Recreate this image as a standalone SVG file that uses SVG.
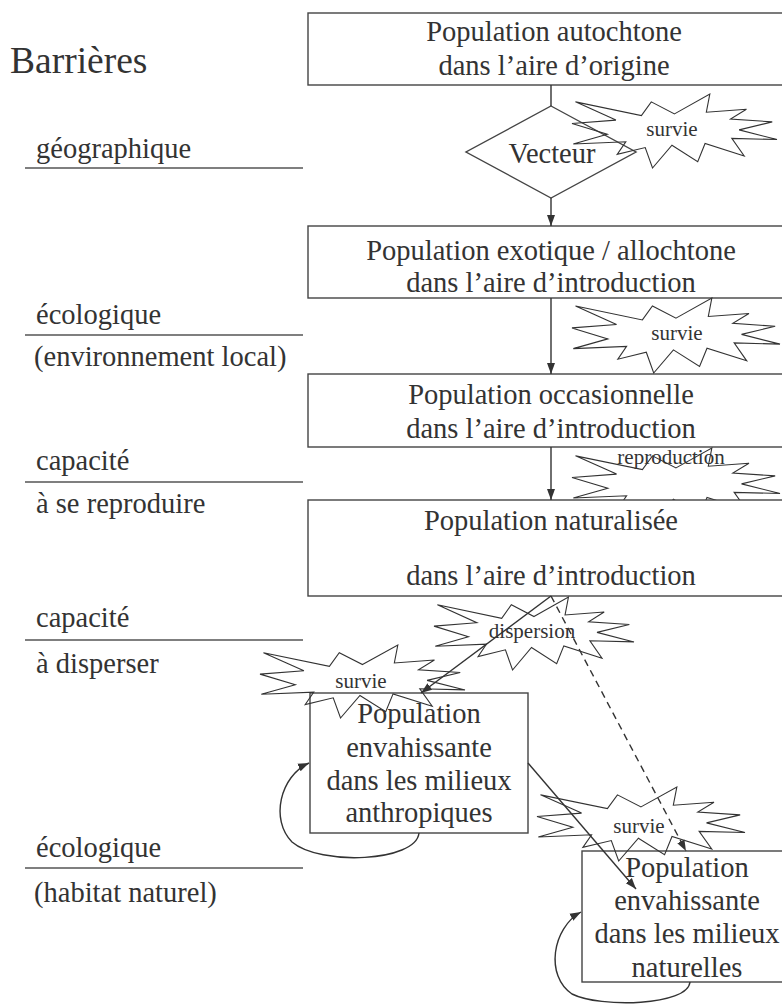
<svg xmlns="http://www.w3.org/2000/svg" xmlns:xlink="http://www.w3.org/1999/xlink" width="782" height="1005" viewBox="0 0 782 1005">
<style>
text{font-family:"Liberation Serif","Times New Roman",serif;fill:#333}
.box{fill:none;stroke:#444;stroke-width:1.4}
.side{font-size:28.5px}
.star{fill:none;stroke:#333;stroke-width:1.1}
.st{font-size:21px;text-anchor:middle}
.bt{font-size:28.5px;text-anchor:middle}
.sep{stroke:#555;stroke-width:1.4}
.con{fill:none;stroke:#333;stroke-width:1.4}
</style>
<defs>
<marker id="ah" markerUnits="userSpaceOnUse" markerWidth="12" markerHeight="10" refX="11" refY="5" orient="auto">
<path d="M0,1 L11,5 L0,9 Z" fill="#333"/>
</marker>
<polygon id="starShape" vector-effect="non-scaling-stroke" points="50,26.85 67.23,0 65.53,24.65 85.09,20.63 77.32,33.87 97.67,37.67 81.51,48.5 100,61.53 77.95,59.92 84,83.77 64.91,66.93 61.33,91.38 48.76,69.14 39.28,100 35.72,72.35 22.05,81.56 26.24,64.52 0.625,67.53 17.23,54.51 0,39.88 21.42,35.26 1.71,10.63 33.85,29.26 38.67,10.63"/>
</defs>

<g id="barriers">
<text x="10" y="73" style="font-size:37.5px">Barrières</text>
<text class="side" x="36" y="158">géographique</text>
<line class="sep" x1="25" y1="168" x2="303" y2="168"/>
<text class="side" x="36" y="324">écologique</text>
<line class="sep" x1="25" y1="335" x2="303" y2="335"/>
<text class="side" x="34" y="366">(environnement local)</text>
<text class="side" x="36" y="470">capacité</text>
<line class="sep" x1="25" y1="482" x2="303" y2="482"/>
<text class="side" x="36" y="513">à se reproduire</text>
<text class="side" x="36" y="627">capacité</text>
<line class="sep" x1="25" y1="640" x2="303" y2="640"/>
<text class="side" x="36" y="673">à disperser</text>
<text class="side" x="36" y="857">écologique</text>
<line class="sep" x1="25" y1="868" x2="303" y2="868"/>
<text class="side" x="34" y="902">(habitat naturel)</text>
</g>

<g id="n-autochtone">
<rect class="box" x="308" y="13" width="492" height="72"/>
<text class="bt" x="554" y="41">Population autochtone</text>
<text class="bt" x="554" y="75">dans l’aire d’origine</text>
</g>

<g id="n-vecteur">
<polygon class="box" points="551,106 636,152 551,198 466,152"/>
<text x="552" y="163" style="font-size:28.5px;text-anchor:middle">Vecteur</text>
</g>

<g id="n-exotique">
<rect class="box" x="308" y="226" width="492" height="72"/>
<text class="bt" x="551" y="260">Population exotique / allochtone</text>
<text class="bt" x="551" y="292">dans l’aire d’introduction</text>
</g>

<g id="n-occasionnelle">
<rect class="box" x="308" y="374" width="492" height="73"/>
<text class="bt" x="551" y="404">Population occasionnelle</text>
<text class="bt" x="551" y="438">dans l’aire d’introduction</text>
</g>

<g id="s-survie1">
<use xlink:href="#starShape" class="star" transform="translate(572,94) scale(2.05,0.74)"/>
<text class="st" x="672" y="136">survie</text>
</g>
<g id="s-survie2">
<use xlink:href="#starShape" class="star" transform="translate(572,298) scale(2.08,0.75)"/>
<text class="st" x="677" y="340">survie</text>
</g>
<g id="s-reproduction">
<use xlink:href="#starShape" class="star" transform="translate(572,448) scale(2.08,0.74)"/>
<text class="st" x="671" y="464">reproduction</text>
</g>

<g id="n-naturalisee">
<rect class="box" x="308" y="500" width="492" height="96" style="fill:#fff"/>
<text class="bt" x="551" y="530">Population naturalisée</text>
<text class="bt" x="551" y="585">dans l’aire d’introduction</text>
</g>

<g id="n-anthropiques">
<rect class="box" x="310" y="693" width="218" height="140"/>
<text class="bt" x="419" y="723">Population</text>
<text class="bt" x="419" y="757">envahissante</text>
<text class="bt" x="419" y="790">dans les milieux</text>
<text class="bt" x="419" y="822">anthropiques</text>
</g>

<g id="n-naturelles">
<rect class="box" x="582" y="851" width="210" height="131"/>
<text class="bt" x="687" y="877">Population</text>
<text class="bt" x="687" y="910">envahissante</text>
<text class="bt" x="687" y="943">dans les milieux</text>
<text class="bt" x="687" y="977">naturelles</text>
</g>

<g id="s-dispersion">
<use xlink:href="#starShape" class="star" transform="translate(434,597) scale(2.0,0.73)"/>
<text class="st" x="532" y="638">dispersion</text>
</g>
<g id="s-survie3">
<use xlink:href="#starShape" class="star" transform="translate(260,645) scale(2.05,0.73)"/>
<text class="st" x="361" y="688">survie</text>
</g>
<g id="s-survie4">
<use xlink:href="#starShape" class="star" transform="translate(537,787) scale(2.08,0.74)"/>
<text class="st" x="639" y="833">survie</text>
</g>

<g id="connectors">
<line class="con" x1="551" y1="85" x2="551" y2="106"/>
<line class="con" x1="551" y1="198" x2="551" y2="226" marker-end="url(#ah)"/>
<line class="con" x1="551" y1="298" x2="551" y2="374" marker-end="url(#ah)"/>
<line class="con" x1="551" y1="447" x2="551" y2="500" marker-end="url(#ah)"/>
<line class="con" x1="551" y1="596" x2="421" y2="693" marker-end="url(#ah)"/>
<line class="con" x1="551" y1="596" x2="686" y2="851" stroke-dasharray="7,5" marker-end="url(#ah)"/>
<line class="con" x1="528" y1="763" x2="636" y2="889" marker-end="url(#ah)"/>
<path class="con" d="M419,833 C416,862 320,866 292,842 C270,820 280,776 309,763" marker-end="url(#ah)"/>
<path class="con" d="M690,982 C688,1006 600,1008 572,994 C545,976 552,928 581,912" marker-end="url(#ah)"/>
</g>
</svg>
